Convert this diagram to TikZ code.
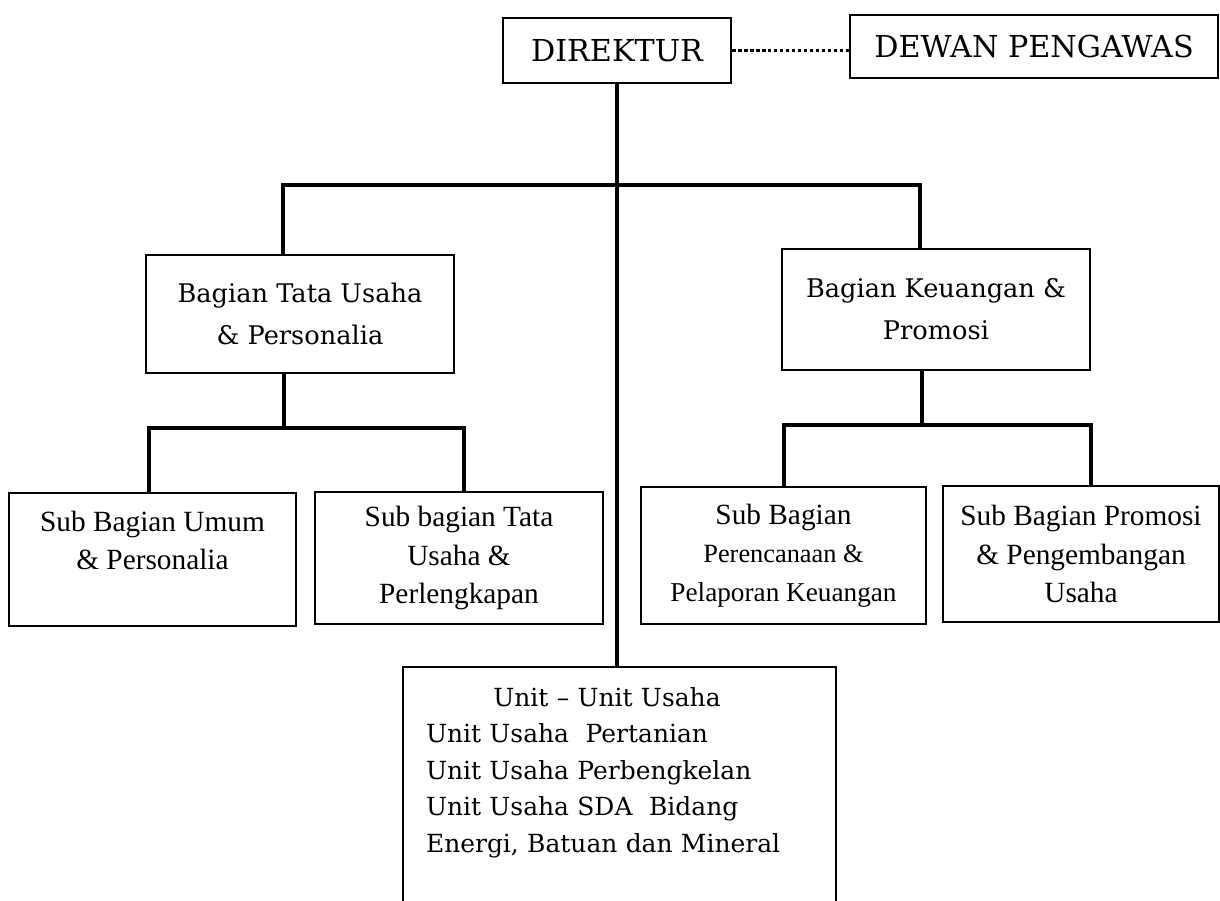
\documentclass[tikz,border=0pt]{standalone}
\usepackage{fontspec}
\setmainfont{DejaVu Serif}
\newfontfamily\timesfont{Liberation Serif}
\tikzset{
  kotak/.style={draw, line width=1.3pt, align=center, inner sep=0pt, font=\fontsize{14.6}{23.9}\selectfont},
  subkotak/.style={kotak, font=\timesfont\fontsize{16.7}{21.9}\selectfont},
  garis/.style={line width=2.5pt},
  titik/.style={line width=2.2pt, dash pattern=on 2pt off 1.4pt}
}

\begin{document}
\begin{tikzpicture}[x=0.02cm, y=-0.02cm]
        \useasboundingbox (0,0) rectangle (1220,900);
        \clip (0,0) rectangle (1220,900);

        \node[kotak, font=\fontsize{17.2}{21}\selectfont, minimum width=4.56cm, minimum height=1.3cm] (dir) at (617,50.5) {DIREKTUR};
        \node[kotak, font=\fontsize{17.2}{21}\selectfont, minimum width=7.36cm, minimum height=1.26cm] (dewan) at (1034,46.5) {DEWAN PENGAWAS};

        \node[kotak, minimum width=6.16cm, minimum height=2.36cm] (bagTU) at (300,314) {Bagian Tata Usaha\\ \& Personalia};
        \node[kotak, minimum width=6.16cm, minimum height=2.42cm] (bagKeu) at (936,309.5) {Bagian Keuangan \&\\ Promosi};

        \node[subkotak, minimum width=5.74cm, minimum height=2.66cm] (umum) at (152.5,559.5) {Sub Bagian Umum\\ \& Personalia\\ \mbox{}};
        \node[subkotak, minimum width=5.76cm, minimum height=2.64cm] (tata) at (459,558) {Sub bagian Tata\\ Usaha \&\\ Perlengkapan};
        \node[subkotak, minimum width=5.7cm, minimum height=2.74cm] (renc) at (783.5,555.5) {Sub Bagian\\ {\fontsize{15}{21.9}\selectfont Perencanaan \&}\\ {\fontsize{15.5}{21.9}\selectfont Pelaporan Keuangan}};
        \node[subkotak, minimum width=5.52cm, minimum height=2.72cm] (promosi) at (1081,554) {Sub Bagian Promosi\\ \& Pengembangan\\ Usaha};

        \node[kotak, align=left, text width=7.74cm, inner xsep=0.46cm, inner ysep=0.4cm, anchor=north, font=\fontsize{14.2}{20.8}\selectfont] (unit) at (619.5,666) {\hfill Unit -- Unit Usaha\hfill\hspace*{0.5cm}\null\\ Unit Usaha~ Pertanian\\ Unit Usaha Perbengkelan\\ Unit Usaha SDA~ Bidang\\ Energi, Batuan dan Mineral\\ \mbox{}\\ \mbox{}};

        \coordinate (barL) at (283,185);
        \coordinate (barR) at (920,185);
        \coordinate (tuB) at (284,428);
        \coordinate (tuL) at (149,428);
        \coordinate (tuR) at (464,428);
        \coordinate (keuB) at (922,425);
        \coordinate (keuL) at (784,425);
        \coordinate (keuR) at (1091,425);

        \draw[titik] (dir.east) -- (dir.east -| dewan.west);
        \draw[garis] (dir.south) -- (dir.south |- unit.north);
        \draw[garis] (bagTU.north -| barL) -- (barL) -- (barR) -- (barR |- bagKeu.north);
        \draw[garis] (bagTU.south -| tuB) -- (tuB);
        \draw[garis] (tuL |- umum.north) -- (tuL) -- (tuR) -- (tuR |- tata.north);
        \draw[garis] (bagKeu.south -| keuB) -- (keuB);
        \draw[garis] (keuL |- renc.north) -- (keuL) -- (keuR) -- (keuR |- promosi.north);
\end{tikzpicture}
\end{document}
